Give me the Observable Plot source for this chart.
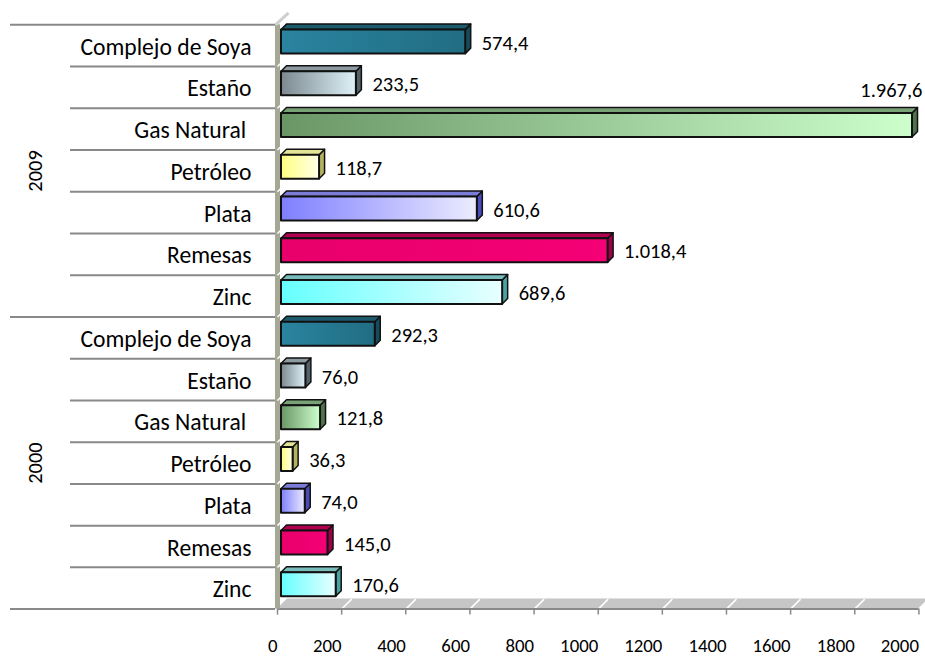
<!DOCTYPE html>
<html><head><meta charset="utf-8">
<script src="https://cdn.jsdelivr.net/npm/d3@7"></script>
<script src="https://cdn.jsdelivr.net/npm/@observablehq/plot@0.6"></script>
<style>
body{margin:0;background:#fff}
#chart{position:relative;width:925px;height:656px}
svg text{white-space:pre}
</style>
</head><body>
<svg id="defs" width="0" height="0" style="position:absolute"></svg>
<div id="chart"></div>
<script>
// ---- data ----
const categories = ["Complejo de Soya", "Estaño", "Gas Natural ", "Petróleo", "Plata", "Remesas", "Zinc"];
const years = ["2009", "2000"];
const values2009 = [574.4, 233.5, 1967.6, 118.7, 610.6, 1018.4, 689.6];
const values2000 = [292.3, 76.0, 121.8, 36.3, 74.0, 145.0, 170.6];
const xTicks = [0, 200, 400, 600, 800, 1000, 1200, 1400, 1600, 1800, 2000];

// ---- styles ----
const frontFrom = ["#2a84a0", "#7b8890", "#6a9666", "#ffff80", "#7f7fff", "#e8006a", "#66ffff"];
const frontTo   = ["#216d83", "#dff2f8", "#ccffcc", "#ffffe8", "#ececff", "#f50076", "#e8ffff"];
const topColor  = ["#1c5a6d", "#8e9aa2", "#7aa277", "#e4e496", "#7b7bd8", "#b0004f", "#78bcbc"];
const sideColor = ["#174a5a", "#52626a", "#4f744c", "#b3b35f", "#4a4ab8", "#9c0048", "#4aa3a3"];

const defs = d3.select("#defs").append("defs");
categories.forEach((c, i) => {
  const g = defs.append("linearGradient").attr("id", "g" + i)
    .attr("x1", 0).attr("x2", 1).attr("y1", 0).attr("y2", 0);
  g.append("stop").attr("offset", 0).attr("stop-color", frontFrom[i]);
  g.append("stop").attr("offset", 1).attr("stop-color", frontTo[i]);
});

const fmt = d3.formatLocale({decimal: ",", thousands: ".", grouping: [3], currency: ["", ""]}).format(",.1f");

// ---- geometry ----
const W = 925, H = 656;
const X_RANGE = [281, 922.4], Y_RANGE = [24.3, 608.6];
const xMax = xTicks[xTicks.length - 1];
const nRows = categories.length * years.length;
const kx = (X_RANGE[1] - X_RANGE[0]) / xMax;
const px2x = p => p / kx;
const rowPx = (Y_RANGE[1] - Y_RANGE[0]) / nRows;
const px2y = p => p / rowPx;
const D = 5.5, FT = 5.3, FB = 29.3;

const series = [values2009, values2000];
const rows = years.flatMap((yr, yi) => categories.map((c, ci) => ({
  cat: c, ci, year: yr, value: series[yi][ci], r: yi * categories.length + ci
})));

const topPts = rows.flatMap(d => [
  {...d, y: d.r + px2y(FT), x1: 0, x2: d.value},
  {...d, y: d.r + px2y(FT - D), x1: px2x(D), x2: d.value + px2x(D)}
]);
const sidePts = rows.flatMap(d => [
  {...d, x: d.value, y1: d.r + px2y(FT), y2: d.r + px2y(FB)},
  {...d, x: d.value + px2x(D), y1: d.r + px2y(FT - D), y2: d.r + px2y(FB - D)}
]);
const floorPts = [
  {y: nRows, x1: 0, x2: xMax},
  {y: nRows - px2y(10), x1: px2x(10), x2: xMax + px2x(10)}
];
const wallTop = [{y: 0}];
const innerB = d3.range(1, nRows).filter(i => i % categories.length !== 0);
const outerB = d3.range(0, nRows + 1, categories.length);
const above = d => d.value > 0.9 * xMax;

const font = "Carlito, Lato, 'Open Sans', sans-serif";

const plot = Plot.plot({
  width: W, height: H, margin: 0,
  x: {domain: [0, xMax], range: X_RANGE, axis: null},
  y: {domain: [0, nRows], range: Y_RANGE, axis: null},
  style: {fontFamily: font, background: "white", overflow: "visible", color: "#000"},
  marks: [
    // left category gridlines
    Plot.ruleY(innerB, {y: d => d, insetLeft: 70, insetRight: W - 275, stroke: "#898989", strokeWidth: 2}),
    Plot.ruleY(outerB, {y: d => d, insetLeft: 10, insetRight: W - 275, stroke: "#898989", strokeWidth: 2}),
    // floor
    Plot.areaX(floorPts, {y: "y", x1: "x1", x2: "x2", dx: -4, fill: "#c6c6c6"}),
    Plot.link(xTicks.slice(1), {x1: d => d, x2: d => d + px2x(10), y1: () => nRows, y2: () => nRows - px2y(10), dx: -4, stroke: "#fff", strokeWidth: 1.5}),
    Plot.ruleY([nRows], {x1: 0, x2: xMax, dx: -4, stroke: "#898989", strokeWidth: 2}),
    Plot.ruleX(xTicks, {x: d => d, y1: () => nRows, y2: () => nRows + px2y(6), dx: -4, stroke: "#898989", strokeWidth: 1.5}),
    // wall
    Plot.rect(wallTop, {x1: 0, x2: 0, y1: () => 0, y2: () => nRows, insetLeft: -6, insetRight: 1, fill: "#a6a896"}),
    Plot.link(wallTop, {x1: () => -px2x(6), x2: () => px2x(7), y1: () => 0, y2: () => -px2y(12), stroke: "#cfcfcf", strokeWidth: 3}),
    Plot.link(d3.range(1, nRows), {x1: () => -px2x(4), x2: () => px2x(5), y1: d => d, y2: d => d - px2y(9), stroke: "#fff", strokeWidth: 1.5}),
    // bars: side, top, front
    Plot.areaY(sidePts, {x: "x", y1: "y1", y2: "y2", z: "r", fill: d => sideColor[d.ci], stroke: "#111", strokeWidth: 1.5, strokeLinejoin: "round"}),
    Plot.areaX(topPts, {y: "y", x1: "x1", x2: "x2", z: "r", fill: d => topColor[d.ci], stroke: "#111", strokeWidth: 1.5, strokeLinejoin: "round"}),
    Plot.rect(rows, {x1: () => 0, x2: "value", y1: d => d.r + px2y(FT), y2: d => d.r + px2y(FB), fill: d => `url(#g${d.ci})`, stroke: "#111", strokeWidth: 2, strokeLinejoin: "round"}),
    // value labels
    Plot.text(rows.filter(d => !above(d)), {x: "value", y: d => d.r + 0.5, dx: 16, dy: -2.5, text: d => fmt(d.value), textAnchor: "start", fontSize: 20.5}),
    Plot.text(rows.filter(above), {x: "value", y: d => d.r, dx: 10, dy: -18, text: d => fmt(d.value), textAnchor: "end", fontSize: 20.5}),
    // category labels
    Plot.text(rows, {y: d => d.r + 0.5, frameAnchor: "left", dx: 251, dy: 1.5, text: "cat", textAnchor: "end", fontSize: 23.6}),
    // year labels
    Plot.text(years, {y: (d, i) => i * categories.length + categories.length / 2, frameAnchor: "left", dx: 35, text: d => d, rotate: -90, textAnchor: "middle", fontSize: 20.5}),
    // x tick labels
    Plot.text(xTicks, {x: d => d, y: () => nRows, dx: -4, dy: 37, text: d => String(d), textAnchor: "end", fontSize: 18.8})
  ]
});
document.getElementById("chart").appendChild(plot);
</script>
</body></html>
